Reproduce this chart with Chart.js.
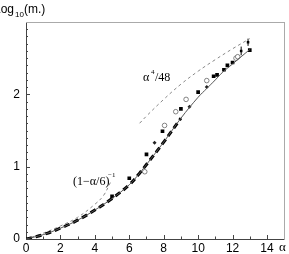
<!DOCTYPE html>
<html>
<head>
<meta charset="utf-8">
<script src="https://cdn.jsdelivr.net/npm/chart.js@4/dist/chart.umd.min.js"></script>
<style>
  body { margin: 0; background: #fff; }
  #wrap { width: 289px; height: 254px; }
</style>
</head>
<body>
<div id="wrap"><canvas id="massChart"></canvas></div>
<script>
// values (alpha, log10 m)
const curveAlpha = [0, 1, 2, 3, 4, 5, 6, 6.6, 7, 8, 9, 10, 10.5, 11, 11.4, 12, 13];
const curveLog   = [0, 0.06, 0.15, 0.26, 0.40, 0.56, 0.75, 0.91, 1.03, 1.34, 1.67, 1.96, 2.08, 2.2, 2.3, 2.42, 2.62];
const thickAlpha = [0, 1, 2, 3, 4, 5, 6, 6.6, 7, 8, 9];
const thickLog   = [0, 0.06, 0.15, 0.26, 0.40, 0.56, 0.75, 0.91, 1.03, 1.34, 1.67];
const strongAlpha = [6.6, 7, 8, 9, 10, 11, 12, 13];
const strongLog   = [1.60, 1.70, 1.93, 2.14, 2.32, 2.48, 2.63, 2.77];
const weakAlpha = [0, 1, 2, 3, 4, 4.5, 4.9];
const weakLog   = [0, 0.08, 0.18, 0.30, 0.48, 0.60, 0.78];
const squareAlpha = [5.0, 6.0, 7.0, 7.93, 9.0, 10.0, 10.9, 11.1, 11.5, 11.7, 12.0, 13.0];
const squareLog   = [0.59, 0.84, 1.17, 1.49, 1.80, 2.03, 2.25, 2.27, 2.34, 2.40, 2.44, 2.61];
const circleAlpha = [6.9, 8.05, 8.7, 9.3, 10.5, 12.2, 12.3];
const circleLog   = [0.93, 1.57, 1.76, 1.93, 2.19, 2.50, 2.52];
const diamondAlpha = [7.47, 9.5, 10.5];
const diamondLog   = [1.33, 1.83, 2.10];
const errAlpha = [12.5, 12.9];
const errLog   = [2.60, 2.72];
const errSize  = [0.06, 0.05];
const xTicks = [0, 2, 4, 6, 8, 10, 12, 14];
const yTicks = [0, 1, 2];

const pts = (xs, ys) => xs.map((x, i) => ({ x: x, y: ys[i] }));

const errBars = [];
errAlpha.forEach((a, i) => {
    errBars.push({ x: a, y: errLog[i] - errSize[i] }, { x: a, y: errLog[i] + errSize[i] }, { x: a, y: null });
});

const serif = '"Liberation Serif", "DejaVu Serif", serif';
const sans = '"Liberation Sans", Arial, sans-serif';

// inward minor ticks, axis labels and annotations
const decorations = {
    id: 'decorations',
    afterDraw(chart) {
        const c = chart.ctx, xs = chart.scales.x, ys = chart.scales.y, a = chart.chartArea;
        c.save();
        c.strokeStyle = '#444';
        c.lineWidth = 1;
        for (let v = 1; v < 15; v++) {
            const p = Math.round(xs.getPixelForValue(v)) + 0.5;
            const len = v % 2 === 0 ? 4 : 2.5;
            c.beginPath(); c.moveTo(p, a.bottom); c.lineTo(p, a.bottom - len); c.stroke();
        }
        for (let k = 1; k < 30; k++) {
            const p = Math.round(ys.getPixelForValue(k / 10)) + 0.5;
            const len = k % 10 === 0 ? 4 : 2;
            c.beginPath(); c.moveTo(a.left, p); c.lineTo(a.left + len, p); c.stroke();
        }
        c.fillStyle = '#000';
        c.textBaseline = 'alphabetic';
        // y title
        c.font = '12px ' + sans;
        c.fillText('Log', -6, 13);
        c.font = '8px ' + sans;
        c.fillText('10', 15, 17);
        c.font = '12px ' + sans;
        c.fillText('(m.)', 24, 13);
        // x title
        c.font = '13px ' + serif;
        c.fillText('α', 279, 251);
        // annotations
        c.font = '12px ' + serif;
        c.fillText('α', 143, 81);
        c.font = '7px ' + serif;
        c.fillText('4', 151, 74);
        c.font = '12px ' + serif;
        c.fillText('/48', 155, 81);
        c.fillText('(1−α/6)', 73, 185);
        c.font = '7px ' + serif;
        c.fillText('−1', 108, 177);
        c.restore();
    }
};

new Chart(document.getElementById('massChart'), {
    type: 'scatter',
    data: {
        datasets: [{
            type: 'line',
            data: pts(curveAlpha, curveLog),
            borderColor: '#555',
            borderWidth: 1,
            pointRadius: 0,
            tension: 0.4
        }, {
            type: 'line',
            data: pts(thickAlpha, thickLog),
            borderColor: '#000',
            borderWidth: 3,
            borderDash: [6, 4],
            pointRadius: 0,
            tension: 0.4
        }, {
            type: 'line',
            data: pts(strongAlpha, strongLog),
            borderColor: '#888',
            borderWidth: 1,
            borderDash: [3, 3],
            pointRadius: 0,
            tension: 0.4
        }, {
            type: 'line',
            data: pts(weakAlpha, weakLog),
            borderColor: '#888',
            borderWidth: 1,
            borderDash: [3, 3],
            pointRadius: 0,
            tension: 0.4
        }, {
            data: pts(squareAlpha, squareLog),
            pointStyle: 'rect',
            pointRadius: 2.6,
            backgroundColor: '#000',
            borderColor: '#000',
            borderWidth: 0
        }, {
            data: pts(circleAlpha, circleLog),
            pointStyle: 'circle',
            pointRadius: 2.3,
            backgroundColor: '#fff',
            borderColor: '#666',
            borderWidth: 0.8
        }, {
            data: pts(diamondAlpha, diamondLog),
            pointStyle: 'rectRot',
            pointRadius: 2,
            backgroundColor: '#222',
            borderColor: '#222',
            borderWidth: 0
        }, {
            type: 'line',
            data: errBars,
            borderColor: '#000',
            borderWidth: 1,
            pointRadius: 0,
            spanGaps: false
        }, {
            data: pts(errAlpha, errLog),
            pointStyle: 'rect',
            pointRadius: 1.8,
            backgroundColor: '#000',
            borderWidth: 0
        }]
    },
    options: {
        responsive: true,
        maintainAspectRatio: false,
        animation: false,
        layout: { padding: { top: 22, right: 4, left: 0, bottom: 0 } },
        plugins: { legend: { display: false }, tooltip: { enabled: false } },
        scales: {
            x: {
                type: 'linear',
                min: 0,
                max: 15,
                afterFit: s => { s.height = 15; },
                afterBuildTicks: s => { s.ticks = xTicks.map(v => ({ value: v })); },
                grid: { display: false, drawTicks: false },
                border: { color: '#444', width: 1 },
                ticks: { color: '#000', font: { family: sans, size: 12 }, padding: 2 }
            },
            y: {
                type: 'linear',
                min: 0,
                max: 3,
                afterFit: s => { s.width = 26; },
                afterBuildTicks: s => { s.ticks = yTicks.map(v => ({ value: v })); },
                grid: { display: false, drawTicks: false },
                border: { color: '#444', width: 1 },
                ticks: { color: '#000', font: { family: sans, size: 12 }, padding: 6 }
            },
            x2: {
                type: 'linear', position: 'top', min: 0, max: 15,
                grid: { display: false, drawTicks: false }, ticks: { display: false },
                border: { color: '#aaa', width: 1 },
                afterFit: s => { s.height = 0; }
            },
            y2: {
                type: 'linear', position: 'right', min: 0, max: 3,
                grid: { display: false, drawTicks: false }, ticks: { display: false },
                border: { color: '#aaa', width: 1 },
                afterFit: s => { s.width = 0; }
            }
        }
    },
    plugins: [decorations]
});
</script>
</body>
</html>
